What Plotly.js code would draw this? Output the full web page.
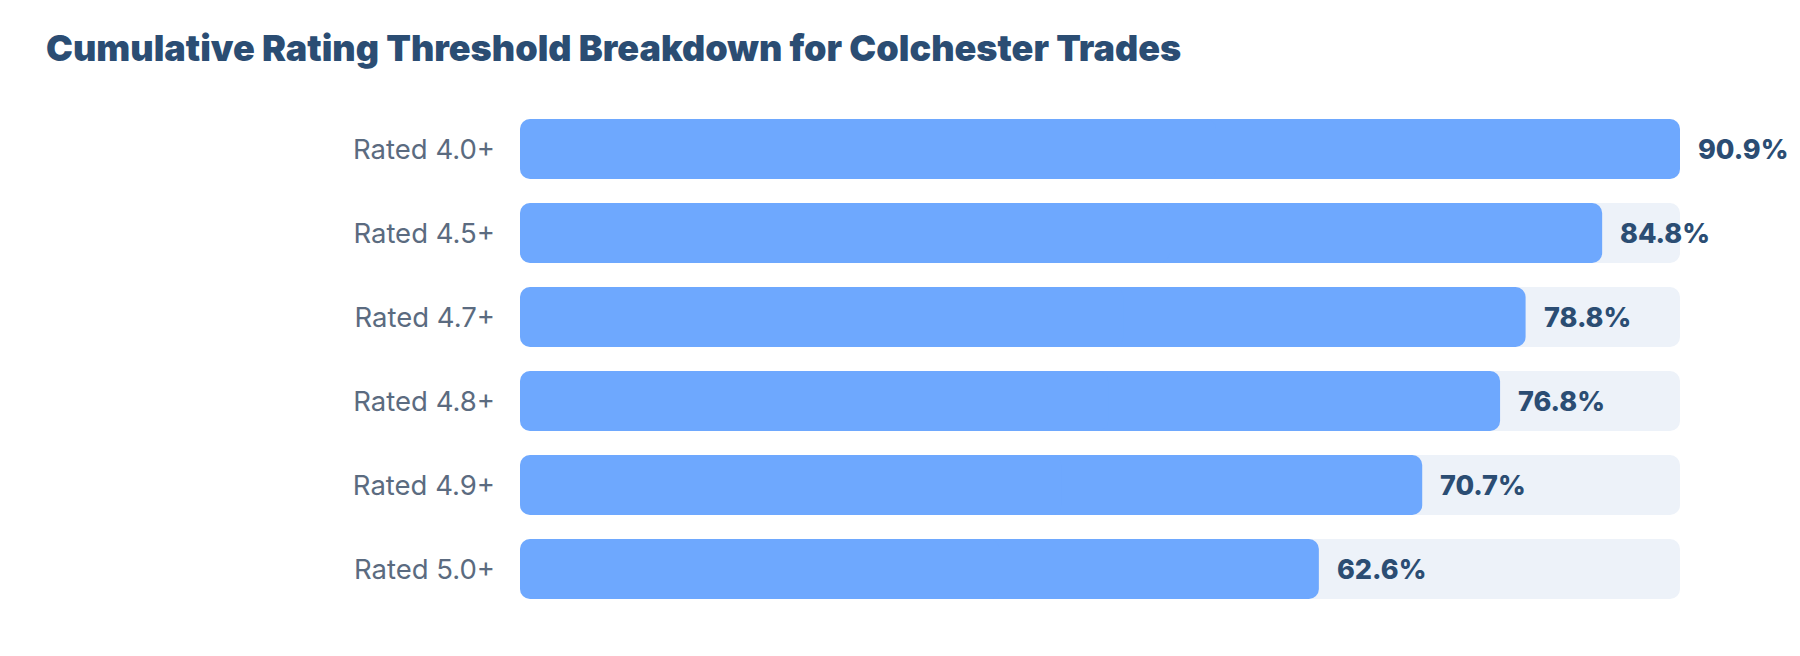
<!DOCTYPE html>
<html>
<head>
<meta charset="utf-8">
<script src="https://cdn.plot.ly/plotly-3.0.1.min.js"></script>
<style>
  html, body { margin: 0; padding: 0; background: #ffffff; }
  #chart { width: 1800px; height: 656px; }
</style>
</head>
<body>
<div id="chart"></div>
<script>
// rating thresholds, top to bottom
var categories = ['Rated 4.0+', 'Rated 4.5+', 'Rated 4.7+', 'Rated 4.8+', 'Rated 4.9+', 'Rated 5.0+'];
var shares = [90.9, 84.8, 78.8, 76.8, 70.7, 62.6];
var valueLabels = ['90.9%', '84.8%', '78.8%', '76.8%', '70.7%', '62.6%'];

var maxShare = Math.max.apply(null, shares);
var track = categories.map(function () { return maxShare; });

// plotly only rounds the far end of a bar, so each bar is drawn as two
// overlapping halves: one growing right from the middle, one growing left
function roundedBar(values, color) {
    var right = {
        type: 'bar', orientation: 'h', y: categories,
        base: values.map(function (v) { return v * 0.4; }),
        x: values.map(function (v) { return v * 0.6; }),
        marker: { color: color, cornerradius: 10, line: { width: 0 } },
        hoverinfo: 'skip'
    };
    var left = {
        type: 'bar', orientation: 'h', y: categories,
        base: values.map(function (v) { return v * 0.6; }),
        x: values.map(function (v) { return -v * 0.6; }),
        marker: { color: color, cornerradius: 10, line: { width: 0 } },
        hoverinfo: 'skip'
    };
    return [right, left];
}

var traces = roundedBar(track, '#edf2f9').concat(roundedBar(shares, '#6ea8fe'));

// value labels just past the end of each bar
var annotations = shares.map(function (v, i) {
    return {
        x: v, y: categories[i], xref: 'x', yref: 'y',
        text: valueLabels[i],
        showarrow: false,
        xanchor: 'left', yanchor: 'middle',
        xshift: 16,
        font: { family: 'Inter, sans-serif', size: 27, color: '#2b4d73', weight: 800 }
    };
});

var layout = {
    width: 1800,
    height: 656,
    paper_bgcolor: '#ffffff',
    plot_bgcolor: '#ffffff',
    barmode: 'overlay',
    bargap: 24 / 84,   // 84px rows, 60px bars -> whole-pixel bar edges
    showlegend: false,
    margin: { l: 520, r: 120, t: 107, b: 45 },
    title: {
        text: 'Cumulative Rating Threshold Breakdown for Colchester Trades',
        x: 46 / 1800, xref: 'container', xanchor: 'left',
        y: 1 - 48 / 656, yref: 'container', yanchor: 'middle',
        font: { family: 'Inter, sans-serif', size: 36, color: '#2b4d73', weight: 900 }
    },
    xaxis: {
        range: [0, maxShare],
        showgrid: false, zeroline: false, showline: false,
        showticklabels: false, fixedrange: true
    },
    yaxis: {
        autorange: 'reversed',
        showgrid: false, zeroline: false, showline: false,
        ticklabelstandoff: 24,
        tickfont: { family: 'Inter, sans-serif', size: 27.5, color: '#5b6b80' },
        fixedrange: true
    },
    annotations: annotations
};

Plotly.newPlot('chart', traces, layout, { displayModeBar: false, staticPlot: true });
</script>
</body>
</html>
